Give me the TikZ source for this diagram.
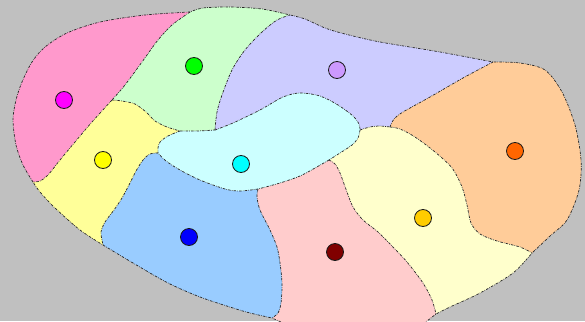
\documentclass[tikz,border=0pt]{standalone}
\usetikzlibrary{calc}
\definecolor{bg}{HTML}{C0C0C0}
\definecolor{cPink}{HTML}{FF99CC}
\definecolor{cGreen}{HTML}{CCFFCC}
\definecolor{cLav}{HTML}{CCCCFF}
\definecolor{cPeach}{HTML}{FFCC99}
\definecolor{cYel}{HTML}{FFFF99}
\definecolor{cCyan}{HTML}{CCFFFF}
\definecolor{cBlue}{HTML}{99CCFF}
\definecolor{cLPink}{HTML}{FFCCCC}
\definecolor{cLYel}{HTML}{FFFFCC}
\definecolor{dMag}{HTML}{FF00FF}
\definecolor{dGreen}{HTML}{00FF00}
\definecolor{dPurp}{HTML}{CC99FF}
\definecolor{dOrange}{HTML}{FF6600}
\definecolor{dYel}{HTML}{FFFF00}
\definecolor{dCyan}{HTML}{00FFFF}
\definecolor{dBlue}{HTML}{0000FF}
\definecolor{dRed}{HTML}{800000}
\definecolor{dGold}{HTML}{FFCC00}
\tikzset{
  border/.style={draw=black!85, line width=0.7pt, dash pattern=on 2.5pt off 1.2pt on 0.6pt off 1.2pt},
  site/.style={circle, draw=black!90, line width=0.8pt, minimum size=17pt, inner sep=0pt}
}
% outer boundary pieces
\def\pA{-- plot[smooth] coordinates {(33,182) (23,165) (16,145) (13,120) (16,100) (22,82) (32,62) (45,47) (67,33) (100,22) (145,15) (190,12)}}
\def\pB{-- plot[smooth] coordinates {(190,12) (203,8) (230,7) (262,9) (290,15)}}
\def\pC{-- plot[smooth] coordinates {(290,15) (305,19) (325,28) (345,34) (380,42) (440,52) (493,62)}}
\def\pD{-- plot[smooth] coordinates {(493,62) (520,63) (545,70) (562,92) (575,125) (581,160) (579,190) (567,220) (550,236) (532,253)}}
\def\pE{-- plot[smooth] coordinates {(532,253) (513,273) (480,293) (450,307) (436,314)}}
\def\pF{-- (427,321) -- (418,328) -- (290,328) -- (281,322) -- (272,318)}
\def\pG{-- plot[smooth] coordinates {(272,318) (250,313) (233,308) (200,297) (168,283) (133,263) (103,245)}}
\def\pH{-- plot[smooth] coordinates {(103,245) (80,230) (55,208) (40,192) (33,182)}}
% interior boundaries (forward)
\def\pIa{-- plot[smooth] coordinates {(190,12) (172,25) (158,40) (142,62) (125,85) (112,100)}}
\def\pIb{-- plot[smooth] coordinates {(112,100) (92,122) (75,142) (60,160) (48,175) (40,181) (33,182)}}
\def\pIc{-- plot[smooth] coordinates {(112,100) (122,101) (135,104) (146,112) (155,121) (167,127) (180,131)}}
\def\pId{-- plot[smooth] coordinates {(180,131) (197,131) (215,130)}}
\def\pIe{-- plot[smooth] coordinates {(215,130) (217,112) (222,95) (232,70) (245,50) (262,32) (277,20) (290,15)}}
\def\pIf{-- plot[smooth] coordinates {(215,130) (233,123) (260,110) (283,97) (300,93) (320,96) (338,105) (353,116) (359,124) (360,130)}}
\def\pIg{-- plot[smooth] coordinates {(360,130) (370,127) (380,126) (390,127)}}
\def\pIh{-- plot[smooth] coordinates {(390,127) (394,119) (403,112) (430,97) (463,78) (493,62)}}
\def\pIi{-- plot[smooth] coordinates {(390,127) (400,129) (415,137) (435,152) (452,168) (462,187) (467,205) (471,223) (480,234) (497,241) (520,247) (532,253)}}
\def\pIj{-- plot[smooth] coordinates {(360,130) (358,138) (352,145) (340,153) (329,160)}}
\def\pIk{-- plot[smooth] coordinates {(329,160) (315,168) (300,176) (280,183) (258,189)}}
\def\pIl{-- plot[smooth] coordinates {(329,160) (335,164) (340,173) (347,192) (353,207) (363,220) (378,232) (392,246) (407,262) (423,283) (432,300) (436,314)}}
\def\pIm{-- plot[smooth] coordinates {(258,189) (240,191) (225,189) (200,180) (180,170) (166,161) (158,153)}}
\def\pIn{-- plot[smooth] coordinates {(180,131) (168,136) (160,142) (158,148) (158,153)}}
\def\pIo{-- plot[smooth] coordinates {(158,153) (150,154) (143,160) (136,171) (130,183) (122,198) (114,210) (105,222) (101,232) (102,240) (103,245)}}
\def\pIp{-- plot[smooth] coordinates {(258,189) (257,197) (260,210) (270,230) (277,247) (280,263) (282,283) (281,303) (278,313) (272,318)}}
% interior boundaries (reversed)
\def\qIa{-- plot[smooth] coordinates {(112,100) (125,85) (142,62) (158,40) (172,25) (190,12)}}
\def\qIb{-- plot[smooth] coordinates {(33,182) (40,181) (48,175) (60,160) (75,142) (92,122) (112,100)}}
\def\qIc{-- plot[smooth] coordinates {(180,131) (167,127) (155,121) (146,112) (135,104) (122,101) (112,100)}}
\def\qId{-- plot[smooth] coordinates {(215,130) (197,131) (180,131)}}
\def\qIe{-- plot[smooth] coordinates {(290,15) (277,20) (262,32) (245,50) (232,70) (222,95) (217,112) (215,130)}}
\def\qIf{-- plot[smooth] coordinates {(360,130) (359,124) (353,116) (338,105) (320,96) (300,93) (283,97) (260,110) (233,123) (215,130)}}
\def\qIg{-- plot[smooth] coordinates {(390,127) (380,126) (370,127) (360,130)}}
\def\qIh{-- plot[smooth] coordinates {(493,62) (463,78) (430,97) (403,112) (394,119) (390,127)}}
\def\qIi{-- plot[smooth] coordinates {(532,253) (520,247) (497,241) (480,234) (471,223) (467,205) (462,187) (452,168) (435,152) (415,137) (400,129) (390,127)}}
\def\qIj{-- plot[smooth] coordinates {(329,160) (340,153) (352,145) (358,138) (360,130)}}
\def\qIk{-- plot[smooth] coordinates {(258,189) (280,183) (300,176) (315,168) (329,160)}}
\def\qIl{-- plot[smooth] coordinates {(436,314) (432,300) (423,283) (407,262) (392,246) (378,232) (363,220) (353,207) (347,192) (340,173) (335,164) (329,160)}}
\def\qIm{-- plot[smooth] coordinates {(158,153) (166,161) (180,170) (200,180) (225,189) (240,191) (258,189)}}
\def\qIn{-- plot[smooth] coordinates {(158,153) (158,148) (160,142) (168,136) (180,131)}}
\def\qIo{-- plot[smooth] coordinates {(103,245) (102,240) (101,232) (105,222) (114,210) (122,198) (130,183) (136,171) (143,160) (150,154) (158,153)}}
\def\qIp{-- plot[smooth] coordinates {(272,318) (278,313) (281,303) (282,283) (280,263) (277,247) (270,230) (260,210) (257,197) (258,189)}}
\begin{document}
\begin{tikzpicture}[x=1pt,y=-1pt]
\fill[bg] (0,0) rectangle (585,321);
\useasboundingbox (0,0) rectangle (585,321);
% region fills
\fill[cPink]  (33,182) \pA \pIa \pIb -- cycle;
\fill[cGreen] (190,12) \pB \qIe \qId \qIc \qIa -- cycle;
\fill[cLav]   (290,15) \pC \qIh \qIg \qIf \pIe -- cycle;
\fill[cPeach] (493,62) \pD \qIi \pIh -- cycle;
\fill[cLYel]  (532,253) \pE \qIl \qIj \pIg \pIi -- cycle;
\fill[cLPink] (436,314) \pF \qIp \qIk \pIl -- cycle;
\fill[cBlue]  (272,318) \pG \qIo \qIm \pIp -- cycle;
\fill[cYel]   (103,245) \pH \qIb \pIc \pIn \pIo -- cycle;
\fill[cCyan]  (180,131) \pId \pIf \pIj \pIk \pIm \qIn -- cycle;
% boundaries
\draw[border] (33,182) \pA \pB \pC \pD \pE \pF \pG \pH;
\draw[border] (190,12) \pIa;
\draw[border] (112,100) \pIb;
\draw[border] (112,100) \pIc;
\draw[border] (180,131) \pId;
\draw[border] (215,130) \pIe;
\draw[border] (215,130) \pIf;
\draw[border] (360,130) \pIg;
\draw[border] (390,127) \pIh;
\draw[border] (390,127) \pIi;
\draw[border] (360,130) \pIj;
\draw[border] (329,160) \pIk;
\draw[border] (329,160) \pIl;
\draw[border] (258,189) \pIm;
\draw[border] (180,131) \pIn;
\draw[border] (158,153) \pIo;
\draw[border] (258,189) \pIp;
% sites
\node[site, fill=dMag]    (s1) at (64,100) {};
\node[site, fill=dGreen]  (s2) at (194,66) {};
\node[site, fill=dPurp]   (s3) at (337,70) {};
\node[site, fill=dOrange] (s4) at (515,151) {};
\node[site, fill=dYel]    (s5) at (103,160) {};
\node[site, fill=dCyan]   (s6) at (241,164) {};
\node[site, fill=dBlue]   (s7) at (189,237) {};
\node[site, fill=dRed]    (s8) at (335,252) {};
\node[site, fill=dGold]   (s9) at (423,218) {};
\end{tikzpicture}
\end{document}
